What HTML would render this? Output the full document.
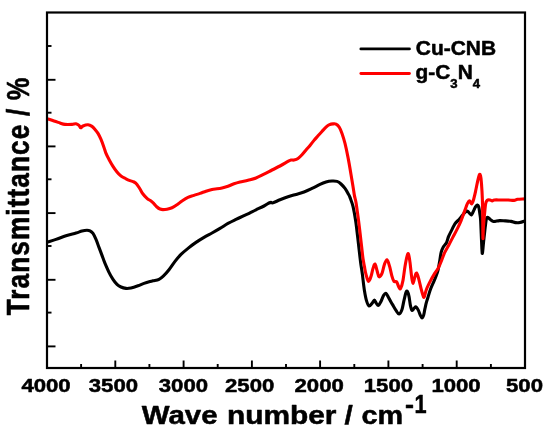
<!DOCTYPE html>
<html><head><meta charset="utf-8"><style>
html,body{margin:0;padding:0;background:#fff}
svg{display:block}
text{font-family:"Liberation Sans",Arial,sans-serif;font-weight:bold;fill:#000;stroke:#000;stroke-width:0.5px;stroke-linejoin:round}
</style></head><body>
<svg width="550" height="429" viewBox="0 0 550 429">
<rect width="550" height="429" fill="#fff"/>
<path d="M47.0 242.0C48.5 241.5 52.8 240.1 56.0 239.0C59.2 237.9 62.7 236.5 66.0 235.4C69.3 234.3 73.3 233.4 76.0 232.6C78.7 231.8 80.2 231.1 82.0 230.6C83.8 230.1 85.7 229.8 87.0 229.8C88.3 229.8 89.0 229.9 90.0 230.4C91.0 230.9 92.0 231.6 93.0 233.0C94.0 234.4 95.0 236.7 96.0 239.0C97.0 241.3 98.0 244.3 99.0 247.0C100.0 249.7 101.0 252.3 102.0 255.0C103.0 257.7 103.8 260.2 105.0 263.0C106.2 265.8 107.7 269.3 109.0 272.0C110.3 274.7 111.7 277.0 113.0 279.0C114.3 281.0 115.7 282.7 117.0 284.0C118.3 285.3 119.5 285.9 121.0 286.6C122.5 287.3 124.3 287.8 126.0 288.0C127.7 288.2 129.0 288.0 131.0 287.6C133.0 287.2 135.8 286.2 138.0 285.4C140.2 284.6 142.0 283.7 144.0 283.0C146.0 282.3 148.5 281.6 150.0 281.2C151.5 280.8 151.5 280.8 153.0 280.4C154.5 280.0 157.2 279.9 159.0 279.0C160.8 278.1 162.3 276.6 164.0 275.0C165.7 273.4 167.2 271.7 169.0 269.4C170.8 267.1 173.0 263.6 175.0 261.0C177.0 258.4 178.8 256.2 181.0 254.0C183.2 251.8 185.5 250.0 188.0 248.0C190.5 246.0 193.3 243.8 196.0 242.0C198.7 240.2 201.3 238.6 204.0 237.0C206.7 235.4 209.3 234.1 212.0 232.6C214.7 231.1 217.3 229.6 220.0 228.0C222.7 226.4 225.3 224.5 228.0 223.0C230.7 221.5 233.3 220.3 236.0 219.0C238.7 217.7 241.7 216.3 244.0 215.2C246.3 214.1 248.0 213.4 250.0 212.4C252.0 211.4 253.7 210.5 256.0 209.4C258.3 208.3 261.8 206.7 264.0 205.6C266.2 204.5 267.8 203.2 269.0 202.6C270.2 202.0 270.3 202.0 271.0 202.0C271.7 202.0 271.5 202.8 273.0 202.4C274.5 202.0 277.5 200.4 280.0 199.4C282.5 198.4 285.3 197.3 288.0 196.4C290.7 195.5 293.3 194.8 296.0 194.0C298.7 193.2 301.3 192.6 304.0 191.6C306.7 190.6 309.3 189.3 312.0 188.0C314.7 186.7 317.7 185.1 320.0 184.0C322.3 182.9 324.0 182.2 326.0 181.6C328.0 181.0 330.2 180.7 332.0 180.6C333.8 180.5 335.5 180.5 337.0 181.0C338.5 181.5 339.7 182.4 341.0 183.6C342.3 184.8 343.8 186.4 345.0 188.0C346.2 189.6 347.2 191.5 348.0 193.0C348.8 194.5 349.2 194.8 350.0 197.0C350.8 199.2 352.1 202.2 353.0 206.0C353.9 209.8 354.8 215.0 355.6 220.0C356.4 225.0 357.0 231.0 357.6 236.0C358.2 241.0 358.7 245.7 359.2 250.0C359.7 254.3 360.1 258.0 360.6 262.0C361.1 266.0 361.8 269.3 362.4 274.0C363.0 278.7 363.7 285.7 364.4 290.0C365.1 294.3 365.6 297.4 366.4 300.0C367.2 302.6 368.1 305.1 369.0 305.6C369.9 306.1 371.1 304.0 372.0 303.0C372.9 302.0 373.7 299.6 374.4 299.6C375.1 299.6 375.7 302.1 376.4 303.0C377.1 303.9 377.6 305.3 378.4 305.0C379.2 304.7 380.1 302.7 381.0 301.0C381.9 299.3 382.8 296.3 383.6 295.0C384.4 293.7 385.1 292.5 386.0 293.0C386.9 293.5 387.9 296.2 389.0 298.0C390.1 299.8 391.2 302.0 392.4 304.0C393.6 306.0 394.9 308.4 396.0 310.0C397.1 311.6 398.0 313.8 399.0 313.6C400.0 313.4 401.2 311.3 402.0 309.0C402.8 306.7 403.3 302.8 404.0 300.0C404.7 297.2 405.4 293.5 406.0 292.0C406.6 290.5 406.9 290.3 407.4 291.0C407.9 291.7 408.5 293.7 409.0 296.0C409.5 298.3 409.9 302.7 410.4 305.0C410.9 307.3 411.4 309.5 412.0 310.0C412.6 310.5 413.3 308.6 414.0 308.0C414.7 307.4 415.3 306.1 416.0 306.4C416.7 306.7 417.7 308.6 418.4 310.0C419.1 311.4 419.8 313.7 420.4 315.0C421.0 316.3 421.5 317.6 422.0 317.6C422.5 317.6 423.1 316.6 423.6 315.0C424.1 313.4 424.5 310.2 425.0 308.0C425.5 305.8 425.9 303.9 426.4 302.0C426.9 300.1 427.3 299.1 428.0 296.8C428.7 294.5 429.7 291.0 430.7 288.4C431.7 285.8 433.0 283.1 433.9 281.0C434.8 278.9 435.3 277.7 436.0 275.8C436.7 273.9 437.5 272.1 438.1 269.5C438.7 266.9 439.3 263.0 439.8 260.0C440.3 257.0 440.6 253.9 441.2 251.7C441.8 249.4 442.4 248.1 443.3 246.5C444.2 244.9 445.6 244.1 446.5 242.3C447.4 240.6 447.7 238.1 448.6 236.0C449.5 233.9 450.6 231.8 451.7 229.7C452.8 227.6 453.7 225.2 454.9 223.4C456.1 221.6 457.9 220.4 459.1 219.0C460.3 217.6 461.2 216.4 462.2 215.2C463.2 214.0 464.4 212.3 465.3 211.6C466.2 210.9 466.8 210.6 467.5 210.8C468.2 211.0 468.9 212.4 469.6 213.0C470.3 213.6 470.9 214.7 471.5 214.4C472.1 214.1 472.6 212.5 473.3 211.2C474.0 209.9 474.8 207.6 475.5 206.5C476.2 205.4 476.8 204.7 477.3 204.6C477.8 204.5 478.2 204.6 478.6 206.0C479.0 207.4 479.5 210.5 479.8 213.0C480.1 215.5 480.4 215.1 480.7 221.0C481.0 226.9 481.6 243.4 481.9 248.6C482.2 253.8 482.2 253.6 482.5 252.4C482.8 251.2 483.1 245.9 483.6 241.4C484.1 236.9 484.9 229.3 485.4 225.4C485.9 221.5 486.1 219.4 486.5 218.0C486.9 216.6 487.4 216.8 488.0 217.0C488.6 217.2 489.3 218.3 490.2 219.0C491.1 219.7 492.3 220.7 493.1 221.0C493.9 221.3 494.0 221.1 495.1 221.0C496.2 220.9 497.8 220.3 499.5 220.2C501.2 220.1 503.4 220.4 505.3 220.5C507.2 220.6 509.4 220.7 511.1 221.0C512.8 221.3 514.0 222.0 515.5 222.2C517.0 222.4 518.2 222.5 519.8 222.2C521.4 221.9 524.1 220.8 525.0 220.5" fill="none" stroke="#000" stroke-width="3.1" stroke-linejoin="round" stroke-linecap="butt" transform="translate(0 0.4)"/>
<path d="M47.0 118.2C48.2 118.6 51.8 119.9 54.0 120.6C56.2 121.3 58.2 122.0 60.0 122.6C61.8 123.2 63.0 123.8 65.0 124.0C67.0 124.2 70.2 124.1 72.0 124.0C73.8 123.9 74.8 123.2 76.0 123.4C77.2 123.6 78.2 124.3 79.0 125.0C79.8 125.7 79.9 127.3 80.6 127.4C81.3 127.5 81.8 126.1 83.0 125.6C84.2 125.1 86.5 124.3 88.0 124.4C89.5 124.5 90.8 125.2 92.0 126.0C93.2 126.8 94.0 127.8 95.0 129.0C96.0 130.2 97.0 131.3 98.0 133.0C99.0 134.7 100.0 136.7 101.0 139.0C102.0 141.3 103.2 144.7 104.0 147.0C104.8 149.3 105.2 151.0 106.0 153.0C106.8 155.0 107.8 156.8 109.0 159.0C110.2 161.2 111.7 163.9 113.0 166.0C114.3 168.1 115.7 170.0 117.0 171.6C118.3 173.2 119.5 174.5 121.0 175.6C122.5 176.7 124.5 177.6 126.0 178.4C127.5 179.2 128.7 179.7 130.0 180.2C131.3 180.7 132.8 181.0 134.0 181.6C135.2 182.2 136.0 182.8 137.0 184.0C138.0 185.2 139.0 187.0 140.0 188.6C141.0 190.2 141.8 192.0 143.0 193.6C144.2 195.2 145.7 196.8 147.0 198.0C148.3 199.2 149.8 199.7 151.0 200.6C152.2 201.5 153.0 202.4 154.0 203.4C155.0 204.4 156.0 205.7 157.0 206.6C158.0 207.5 159.0 208.2 160.0 208.6C161.0 209.0 161.8 209.2 163.0 209.2C164.2 209.2 165.5 209.1 167.0 208.8C168.5 208.5 170.3 208.1 172.0 207.4C173.7 206.7 175.3 205.5 177.0 204.4C178.7 203.3 180.2 201.8 182.0 200.6C183.8 199.4 186.0 197.9 188.0 197.0C190.0 196.1 192.0 195.7 194.0 195.0C196.0 194.3 198.0 193.7 200.0 193.0C202.0 192.3 204.0 191.5 206.0 190.8C208.0 190.1 210.2 189.4 212.0 189.0C213.8 188.6 215.3 188.6 217.0 188.4C218.7 188.2 220.2 188.0 222.0 187.6C223.8 187.2 226.0 186.5 228.0 185.8C230.0 185.1 232.0 184.1 234.0 183.4C236.0 182.7 237.7 182.2 240.0 181.6C242.3 181.0 245.3 180.5 248.0 179.8C250.7 179.1 253.3 178.6 256.0 177.6C258.7 176.6 261.3 175.1 264.0 173.8C266.7 172.5 269.3 171.0 272.0 169.6C274.7 168.2 277.3 167.0 280.0 165.6C282.7 164.2 286.2 162.0 288.0 161.0C289.8 160.0 290.0 159.8 291.0 159.6C292.0 159.4 292.8 159.9 294.0 159.6C295.2 159.3 296.7 158.9 298.0 158.0C299.3 157.1 300.7 155.8 302.0 154.4C303.3 153.0 304.7 151.2 306.0 149.6C307.3 148.0 308.7 146.6 310.0 145.0C311.3 143.4 312.7 141.6 314.0 140.0C315.3 138.4 316.7 136.9 318.0 135.4C319.3 133.9 320.7 132.4 322.0 131.0C323.3 129.6 324.8 127.9 326.0 126.8C327.2 125.7 327.8 125.0 329.0 124.5C330.2 124.0 331.8 123.6 333.0 123.5C334.2 123.4 335.0 123.2 336.0 123.7C337.0 124.2 338.0 124.9 339.0 126.4C340.0 128.0 341.0 130.2 342.0 133.0C343.0 135.8 344.0 139.0 345.0 143.0C346.0 147.0 347.0 151.8 348.0 157.0C349.0 162.2 350.2 169.2 351.0 174.0C351.8 178.8 352.4 182.5 353.0 186.0C353.6 189.5 353.9 192.3 354.4 195.0C354.9 197.7 355.4 198.5 356.0 202.0C356.6 205.5 357.3 211.0 358.0 216.0C358.7 221.0 359.4 227.0 360.0 232.0C360.6 237.0 361.1 241.7 361.6 246.0C362.1 250.3 362.5 254.7 363.0 258.0C363.5 261.3 363.9 263.3 364.4 266.0C364.9 268.7 365.3 271.5 366.0 274.0C366.7 276.5 367.6 280.7 368.4 281.0C369.2 281.3 370.2 278.2 371.0 276.0C371.8 273.8 372.3 270.1 373.0 268.0C373.7 265.9 374.3 263.3 375.0 263.6C375.7 263.9 376.3 267.9 377.0 270.0C377.7 272.1 378.2 275.9 379.0 276.4C379.8 276.9 381.1 275.1 382.0 273.0C382.9 270.9 383.6 266.3 384.4 264.0C385.2 261.7 386.1 259.1 387.0 259.4C387.9 259.7 388.8 263.2 389.6 266.0C390.4 268.8 391.3 273.5 392.0 276.0C392.7 278.5 393.2 280.1 394.0 281.0C394.8 281.9 395.8 280.4 396.6 281.4C397.4 282.4 398.3 285.9 399.0 287.0C399.7 288.1 399.9 289.2 400.6 288.0C401.3 286.8 402.3 283.7 403.0 280.0C403.7 276.3 404.3 270.0 405.0 266.0C405.7 262.0 406.4 258.1 407.0 256.0C407.6 253.9 407.9 252.6 408.4 253.6C408.9 254.6 409.5 258.3 410.0 262.0C410.5 265.7 411.1 272.5 411.6 276.0C412.1 279.5 412.4 283.0 413.0 283.0C413.6 283.0 414.4 277.7 415.0 276.0C415.6 274.3 416.0 272.3 416.6 272.6C417.2 272.9 417.9 275.4 418.6 278.0C419.3 280.6 420.3 285.2 421.0 288.0C421.7 290.8 422.5 293.6 423.0 295.0C423.5 296.4 423.6 297.6 424.2 296.6C424.8 295.6 425.4 291.6 426.5 288.8C427.6 286.0 429.3 282.7 430.7 280.0C432.1 277.3 433.7 274.7 434.9 272.7C436.1 270.7 437.1 269.9 438.1 268.0C439.2 266.1 440.1 263.5 441.2 261.0C442.2 258.5 443.2 255.5 444.4 252.8C445.6 250.1 447.2 247.6 448.6 245.0C450.0 242.4 451.4 239.7 452.8 237.0C454.2 234.3 455.6 231.8 457.0 229.0C458.4 226.2 459.8 223.5 461.0 220.5C462.2 217.5 463.4 213.9 464.5 211.0C465.6 208.1 466.6 204.8 467.5 203.0C468.4 201.2 468.9 200.3 469.6 200.4C470.3 200.5 470.9 203.6 471.5 203.5C472.1 203.4 472.6 202.1 473.3 200.0C474.0 197.9 474.8 194.4 475.5 191.2C476.2 188.0 477.0 183.7 477.6 181.0C478.2 178.3 478.7 176.4 479.1 175.2C479.5 174.0 479.7 173.5 480.0 174.0C480.3 174.5 480.7 175.2 481.0 178.0C481.3 180.8 481.7 185.9 482.0 191.0C482.3 196.1 482.5 200.8 482.6 208.6C482.8 216.4 482.8 234.5 482.9 237.6C483.0 240.7 483.1 231.1 483.4 227.0C483.7 222.9 484.2 216.9 484.6 213.0C485.0 209.1 485.2 205.7 485.6 203.5C486.0 201.3 486.4 200.7 487.1 200.0C487.8 199.3 489.1 199.5 490.0 199.6C490.9 199.7 491.5 200.6 492.2 200.6C492.9 200.6 492.9 199.8 494.4 199.6C495.8 199.4 498.6 199.6 500.9 199.6C503.2 199.6 506.0 199.5 508.2 199.6C510.4 199.7 512.4 200.1 514.0 200.0C515.6 199.9 515.8 199.2 517.6 198.9C519.4 198.7 523.8 198.6 525.0 198.5" fill="none" stroke="#ff0000" stroke-width="3.1" stroke-linejoin="round" stroke-linecap="butt" transform="translate(0 0.4)"/>
<rect x="47" y="12.5" width="478" height="355.5" fill="none" stroke="#000" stroke-width="2.2"/>
<g stroke="#000" stroke-width="1.9"><line x1="47" x2="55.5" y1="79.8" y2="79.8"/><line x1="47" x2="55.5" y1="146.4" y2="146.4"/><line x1="47" x2="55.5" y1="213.1" y2="213.1"/><line x1="47" x2="55.5" y1="279.8" y2="279.8"/><line x1="47" x2="55.5" y1="346.4" y2="346.4"/><line x1="47" x2="51.5" y1="46.0" y2="46.0"/><line x1="47" x2="51.5" y1="112.7" y2="112.7"/><line x1="47" x2="51.5" y1="179.3" y2="179.3"/><line x1="47" x2="51.5" y1="246.0" y2="246.0"/><line x1="47" x2="51.5" y1="312.6" y2="312.6"/><line x1="81.1" x2="81.1" y1="368" y2="364"/><line x1="115.3" x2="115.3" y1="368" y2="360.5"/><line x1="149.4" x2="149.4" y1="368" y2="364"/><line x1="183.6" x2="183.6" y1="368" y2="360.5"/><line x1="217.7" x2="217.7" y1="368" y2="364"/><line x1="251.9" x2="251.9" y1="368" y2="360.5"/><line x1="286.0" x2="286.0" y1="368" y2="364"/><line x1="320.1" x2="320.1" y1="368" y2="360.5"/><line x1="354.3" x2="354.3" y1="368" y2="364"/><line x1="388.4" x2="388.4" y1="368" y2="360.5"/><line x1="422.6" x2="422.6" y1="368" y2="364"/><line x1="456.7" x2="456.7" y1="368" y2="360.5"/><line x1="490.9" x2="490.9" y1="368" y2="364"/></g>
<text x="21.4" y="391.8" textLength="49.3" lengthAdjust="spacingAndGlyphs" font-size="19">4000</text><text x="88.8" y="391.8" textLength="49.3" lengthAdjust="spacingAndGlyphs" font-size="19">3500</text><text x="158.8" y="391.8" textLength="49.3" lengthAdjust="spacingAndGlyphs" font-size="19">3000</text><text x="225.0" y="391.8" textLength="49.3" lengthAdjust="spacingAndGlyphs" font-size="19">2500</text><text x="294.5" y="391.8" textLength="49.3" lengthAdjust="spacingAndGlyphs" font-size="19">2000</text><text x="363.8" y="391.8" textLength="49.3" lengthAdjust="spacingAndGlyphs" font-size="19">1500</text><text x="431.4" y="391.8" textLength="49.3" lengthAdjust="spacingAndGlyphs" font-size="19">1000</text><text x="506" y="391.8" textLength="37" lengthAdjust="spacingAndGlyphs" font-size="19">500</text>
<line x1="360.9" x2="409.4" y1="48.9" y2="48.9" stroke="#000" stroke-width="2.9" stroke-linecap="round"/>
<line x1="360.9" x2="409.4" y1="73.5" y2="73.5" stroke="#ff0000" stroke-width="2.9" stroke-linecap="round"/>
<text x="415.8" y="55" font-size="19.5" textLength="80.2" lengthAdjust="spacingAndGlyphs">Cu-CNB</text>
<text x="415.6" y="78.8" font-size="19.5" textLength="64.5" lengthAdjust="spacingAndGlyphs">g-C<tspan font-size="12.3" dy="9.2">3</tspan><tspan dy="-9.2">N</tspan><tspan font-size="12.3" dy="9.2">4</tspan></text>
<text x="141.8" y="423.9" font-size="25.5" textLength="75.8" lengthAdjust="spacingAndGlyphs">Wave</text>
<text x="226.9" y="423.9" font-size="25.5" textLength="109.6" lengthAdjust="spacingAndGlyphs">number</text>
<text x="344.5" y="423.9" font-size="25.5" textLength="8.3" lengthAdjust="spacingAndGlyphs">/</text>
<text x="361.5" y="423.9" font-size="25.5" textLength="41.6" lengthAdjust="spacingAndGlyphs">cm</text>
<text x="405.1" y="413.0" font-size="25.5" textLength="9.0" lengthAdjust="spacingAndGlyphs">-</text>
<text x="414.4" y="413.0" font-size="25.5" textLength="12.1" lengthAdjust="spacingAndGlyphs">1</text>
<g transform="translate(29.2 315.3) rotate(-90) scale(1 1.21)"><text x="0" y="0" font-size="26.2" textLength="190.6" lengthAdjust="spacing">Transmittance</text><text x="199.2" y="0" font-size="26.2">/</text><text x="215" y="0" font-size="26.2" textLength="22.6" lengthAdjust="spacingAndGlyphs">%</text></g>
</svg>
</body></html>
